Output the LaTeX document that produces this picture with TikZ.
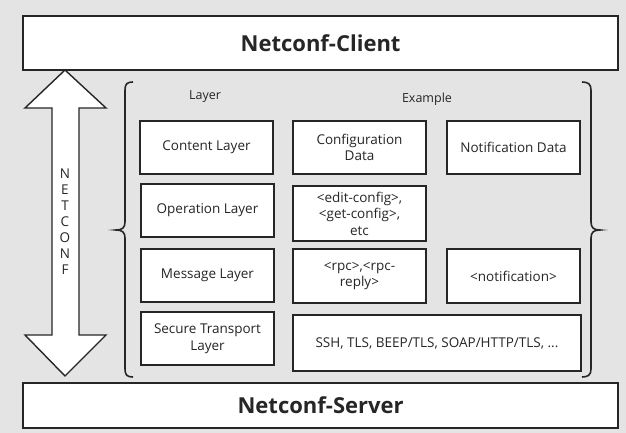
\documentclass[tikz,border=0pt]{standalone}
\usepackage{fontspec}
\setmainfont{Open Sans}
\definecolor{bg}{HTML}{E4E4E4}
\definecolor{ln}{HTML}{262626}
\begin{document}
\begin{tikzpicture}[x=1pt,y=-1pt,
  box/.style={draw=ln,line width=2pt,fill=white,minimum width=#1,anchor=north west,inner sep=0pt,align=center,font=\fontsize{13.5}{16.5}\selectfont,text=ln},
  box/.default=133pt,
  big/.style={draw=ln,line width=2.2pt,fill=white,minimum width=595pt,anchor=north west,inner sep=0pt,font=\fontsize{22}{24}\bfseries\selectfont,text=ln},
  lab/.style={font=\fontsize{12.5}{15}\selectfont,text=ln},
  brc/.style={draw=ln,line width=1.6pt}]
\fill[bg] (0,0) rectangle (626,433);
\useasboundingbox (0,0) rectangle (626,433);
\node[big,minimum height=54pt] (client) at (22,15) {Netconf-Client};
\node[big,minimum height=45pt] (server) at (22,382) {Netconf-Server};
% double arrow
\draw[ln,line width=1.4pt,fill=white] (65,70) -- (106,108) -- (79,108) -- (79,335) -- (106,335) -- (65,376) -- (25,335) -- (52,335) -- (52,108) -- (25,108) -- cycle;
\node[align=center,text=ln,font=\fontsize{13.5}{16}\selectfont] (nc) at (65,222) {N\\E\\T\\C\\O\\N\\F};
% braces
\draw[brc] (133,82) .. controls (127,82) and (125,84) .. (125,90) -- (125,222) .. controls (125,228) and (122,230) .. (116,230) .. controls (122,230) and (125,232) .. (125,238) -- (125,369) .. controls (125,375) and (127,377) .. (133,377);
\draw[brc] (582,82) .. controls (588,82) and (591,84) .. (591,90) -- (591,222) .. controls (591,228) and (594,230) .. (600,230) .. controls (594,230) and (591,232) .. (591,238) -- (591,369) .. controls (591,375) and (588,377) .. (582,377);
\node[lab] (hl) at (205,97) {Layer};
\node[lab] (he) at (427,99) {Example};
% layer boxes
\node[box,minimum height=53pt] (cl) at (139,120) {Content Layer};
\node[box,minimum height=53pt] (ol) at (140,183) {Operation Layer};
\node[box,minimum height=53pt] (ml) at (140,248) {Message Layer};
\node[box,minimum height=53pt] (sl) at (140,311) {Secure Transport\\Layer};
% example boxes
\node[box,minimum height=53pt] (cd) at (292,120) {Configuration\\Data};
\node[box,minimum height=53pt] (nd) at (446,120) {Notification Data};
\node[box,minimum height=55pt] (ec) at (292,185) {<edit-config>,\\<get-config>,\\etc};
\node[box,minimum height=54pt] (rpc) at (292,248) {<rpc>,<rpc-\\reply>};
\node[box,minimum height=54pt] (nt) at (446,248) {<notification>};
\node[box=288pt,minimum height=56pt] (ssh) at (292,314) {SSH, TLS, BEEP/TLS, SOAP/HTTP/TLS, ...};
\end{tikzpicture}
\end{document}
